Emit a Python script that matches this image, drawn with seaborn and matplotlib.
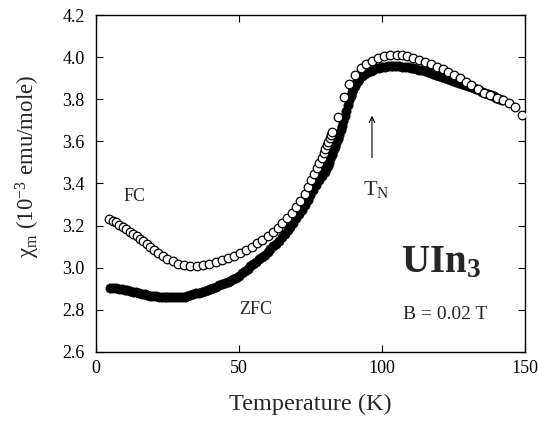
import matplotlib
matplotlib.use("Agg")
import matplotlib.pyplot as plt
import seaborn as sns
import pandas as pd

# ---------------- data ----------------
fc_T = [4.7, 5.8, 7.0, 8.2, 9.4, 10.6, 11.8, 13.0, 14.2, 15.4, 16.6, 17.8, 19.0,
        20.3, 21.7, 23.3, 25.0, 26.8, 28.8, 30.8, 33.0, 35.2, 37.4, 39.6, 41.8,
        44.0, 46.2, 48.4, 50.5, 52.5, 54.4, 56.3, 58.2, 60.0, 61.8, 63.5, 65.2,
        66.8, 68.4, 70.0, 71.5, 73.0, 74.2, 75.3, 76.3, 77.2, 78.1, 78.9, 79.6,
        80.2, 80.7, 81.2, 81.7, 82.2, 82.6, 84.7, 86.6, 88.6, 90.6, 92.5, 94.4,
        96.4, 98.7, 100.7, 102.8, 105.1, 106.9, 108.9, 111.0, 113.0, 115.0,
        117.0, 119.1, 121.2, 123.2, 125.2, 127.3, 129.4, 131.3, 133.7, 135.7,
        137.8, 140.1, 142.2, 144.5, 146.5, 148.8]
fc_chi = [3.231, 3.224, 3.215, 3.205, 3.195, 3.183, 3.172, 3.162, 3.150, 3.137,
          3.125, 3.112, 3.099, 3.085, 3.071, 3.056, 3.042, 3.030, 3.020, 3.013,
          3.010, 3.009, 3.012, 3.018, 3.026, 3.035, 3.046, 3.058, 3.072, 3.086,
          3.100, 3.116, 3.133, 3.150, 3.169, 3.189, 3.212, 3.235, 3.260, 3.287,
          3.315, 3.350, 3.385, 3.418, 3.445, 3.472, 3.498, 3.522, 3.545, 3.565,
          3.582, 3.598, 3.615, 3.632, 3.645, 3.718, 3.810, 3.872, 3.915, 3.947,
          3.967, 3.983, 3.997, 4.005, 4.012, 4.009, 4.008, 4.005, 3.997, 3.986,
          3.977, 3.966, 3.955, 3.944, 3.931, 3.915, 3.900, 3.883, 3.868, 3.849,
          3.831, 3.820, 3.807, 3.796, 3.780, 3.762, 3.725]

zfc_T = [5, 6, 7, 8, 9, 10, 11, 12, 13, 14, 15, 16, 17, 18, 19, 20, 21, 22, 23,
         24, 25, 26, 27, 28, 29, 30, 31, 32, 33, 34, 35, 36, 37, 38, 39, 40, 41,
         42, 43, 44, 45, 46, 47, 48, 49, 50, 51, 52, 53, 54, 55, 56, 57, 58, 59,
         60, 61, 62, 63, 64, 65, 66, 67, 68, 69, 70, 71, 72, 73, 74, 75, 76, 77,
         78, 79, 80, 80.5, 81, 81.5, 82, 82.5, 83, 83.5, 84, 84.5, 85, 85.5, 86,
         86.5, 87, 87.5, 88, 88.5, 89, 89.5, 90, 90.5, 91, 91.5, 92, 93, 94, 95,
         96, 97, 98, 99, 100, 101, 102, 103, 104, 105, 106, 107, 108, 109, 110,
         111, 112, 113, 114, 115, 116, 117, 118, 119, 120, 121, 122, 123, 124,
         125, 126, 127, 128, 129, 130, 131, 132, 133, 134, 135, 136, 137, 138,
         139, 140, 141, 142]
zfc_chi = [2.906, 2.904, 2.902, 2.899, 2.897, 2.895, 2.892, 2.889, 2.886, 2.883,
           2.880, 2.877, 2.874, 2.871, 2.868, 2.866, 2.864, 2.862, 2.861, 2.860,
           2.859, 2.859, 2.859, 2.859, 2.860, 2.861, 2.863, 2.866, 2.869, 2.873,
           2.878, 2.882, 2.886, 2.891, 2.896, 2.900, 2.905, 2.910, 2.916, 2.921,
           2.927, 2.933, 2.939, 2.945, 2.951, 2.962, 2.973, 2.985, 2.996, 3.007,
           3.018, 3.029, 3.040, 3.051, 3.062, 3.074, 3.087, 3.101, 3.115, 3.129,
           3.144, 3.160, 3.177, 3.195, 3.214, 3.234, 3.254, 3.276, 3.299, 3.322,
           3.346, 3.369, 3.392, 3.415, 3.436, 3.455, 3.468, 3.482, 3.498, 3.515,
           3.534, 3.553, 3.572, 3.592, 3.612, 3.632, 3.652, 3.673, 3.696, 3.721,
           3.746, 3.771, 3.795, 3.815, 3.833, 3.850, 3.864, 3.876, 3.886, 3.895,
           3.910, 3.920, 3.928, 3.935, 3.940, 3.946, 3.950, 3.953, 3.955, 3.957,
           3.958, 3.958, 3.958, 3.957, 3.955, 3.953, 3.951, 3.949, 3.947, 3.945,
           3.941, 3.937, 3.933, 3.929, 3.925, 3.921, 3.917, 3.912, 3.908, 3.903,
           3.898, 3.893, 3.888, 3.883, 3.878, 3.873, 3.868, 3.863, 3.858, 3.853,
           3.848, 3.842, 3.836, 3.831, 3.825, 3.820, 3.814, 3.808, 3.802, 3.796]

x_ticks = [0, 50, 100, 150]
y_ticks = [2.6, 2.8, 3.0, 3.2, 3.4, 3.6, 3.8, 4.0, 4.2]
y_tick_labels = ["2.6", "2.8", "3.0", "3.2", "3.4", "3.6", "3.8", "4.0", "4.2"]

# ---------------- style ----------------
sns.set_theme(style="ticks")
plt.rcParams["font.family"] = ["Liberation Serif", "DejaVu Serif"]
plt.rcParams["mathtext.fontset"] = "custom"
plt.rcParams["mathtext.rm"] = "Liberation Serif"
plt.rcParams["mathtext.it"] = "Liberation Serif:italic"
plt.rcParams["mathtext.bf"] = "Liberation Serif:bold"

fig = plt.figure(figsize=(5.38, 4.25), dpi=100)
ax = fig.add_axes([0.1784, 0.1718, 0.7974, 0.7929])

df_zfc = pd.DataFrame({"T": zfc_T, "chi": zfc_chi})
df_fc = pd.DataFrame({"T": fc_T, "chi": fc_chi})

sns.scatterplot(data=df_zfc, x="T", y="chi", ax=ax, s=46, color="black",
                edgecolor="black", linewidth=0.3, zorder=2, legend=False)
sns.scatterplot(data=df_fc, x="T", y="chi", ax=ax, s=38, facecolor="white",
                edgecolor="black", linewidth=0.9, zorder=3, legend=False)

ax.set_xlim(0, 150)
ax.set_ylim(2.6, 4.2)
ax.set_xticks(x_ticks)
ax.set_yticks(y_ticks)
ax.set_yticklabels(y_tick_labels)

for s in ax.spines.values():
    s.set_visible(True)
    s.set_linewidth(1.0)
    s.set_color("black")

ax.tick_params(direction="in", length=5, width=0.8, top=True, right=True,
               labelsize=13, colors="black")
ax.tick_params(axis="x", pad=6)
ax.tick_params(axis="y", pad=8)

ax.set_xlabel("Temperature (K)", fontsize=17.5, labelpad=12)
ax.set_ylabel("χ$_{\\rm m}$ (10$^{-3}$ emu/mole)", fontsize=16.5)
ax.yaxis.set_label_coords(-0.125, 0.55)

# annotations
ax.text(13.6, 3.34, "FC", fontsize=13, ha="center", va="center")
ax.text(55.9, 2.804, "ZFC", fontsize=13, ha="center", va="center")
ax.text(106.5, 2.98, r"$\mathbf{UIn}_{\mathbf{3}}$", fontsize=28, ha="left",
        va="baseline")
ax.text(107.3, 2.757, "B = 0.02 T", fontsize=14, ha="left", va="baseline")
ax.text(93.4, 3.345, r"T$_{\rm N}$", fontsize=16, ha="left", va="baseline")
ax.annotate("", xy=(96.5, 3.735), xytext=(96.5, 3.51),
            arrowprops=dict(arrowstyle="->", lw=0.8, color="black",
                            mutation_scale=10))

fig.savefig("out.png", dpi=100)
